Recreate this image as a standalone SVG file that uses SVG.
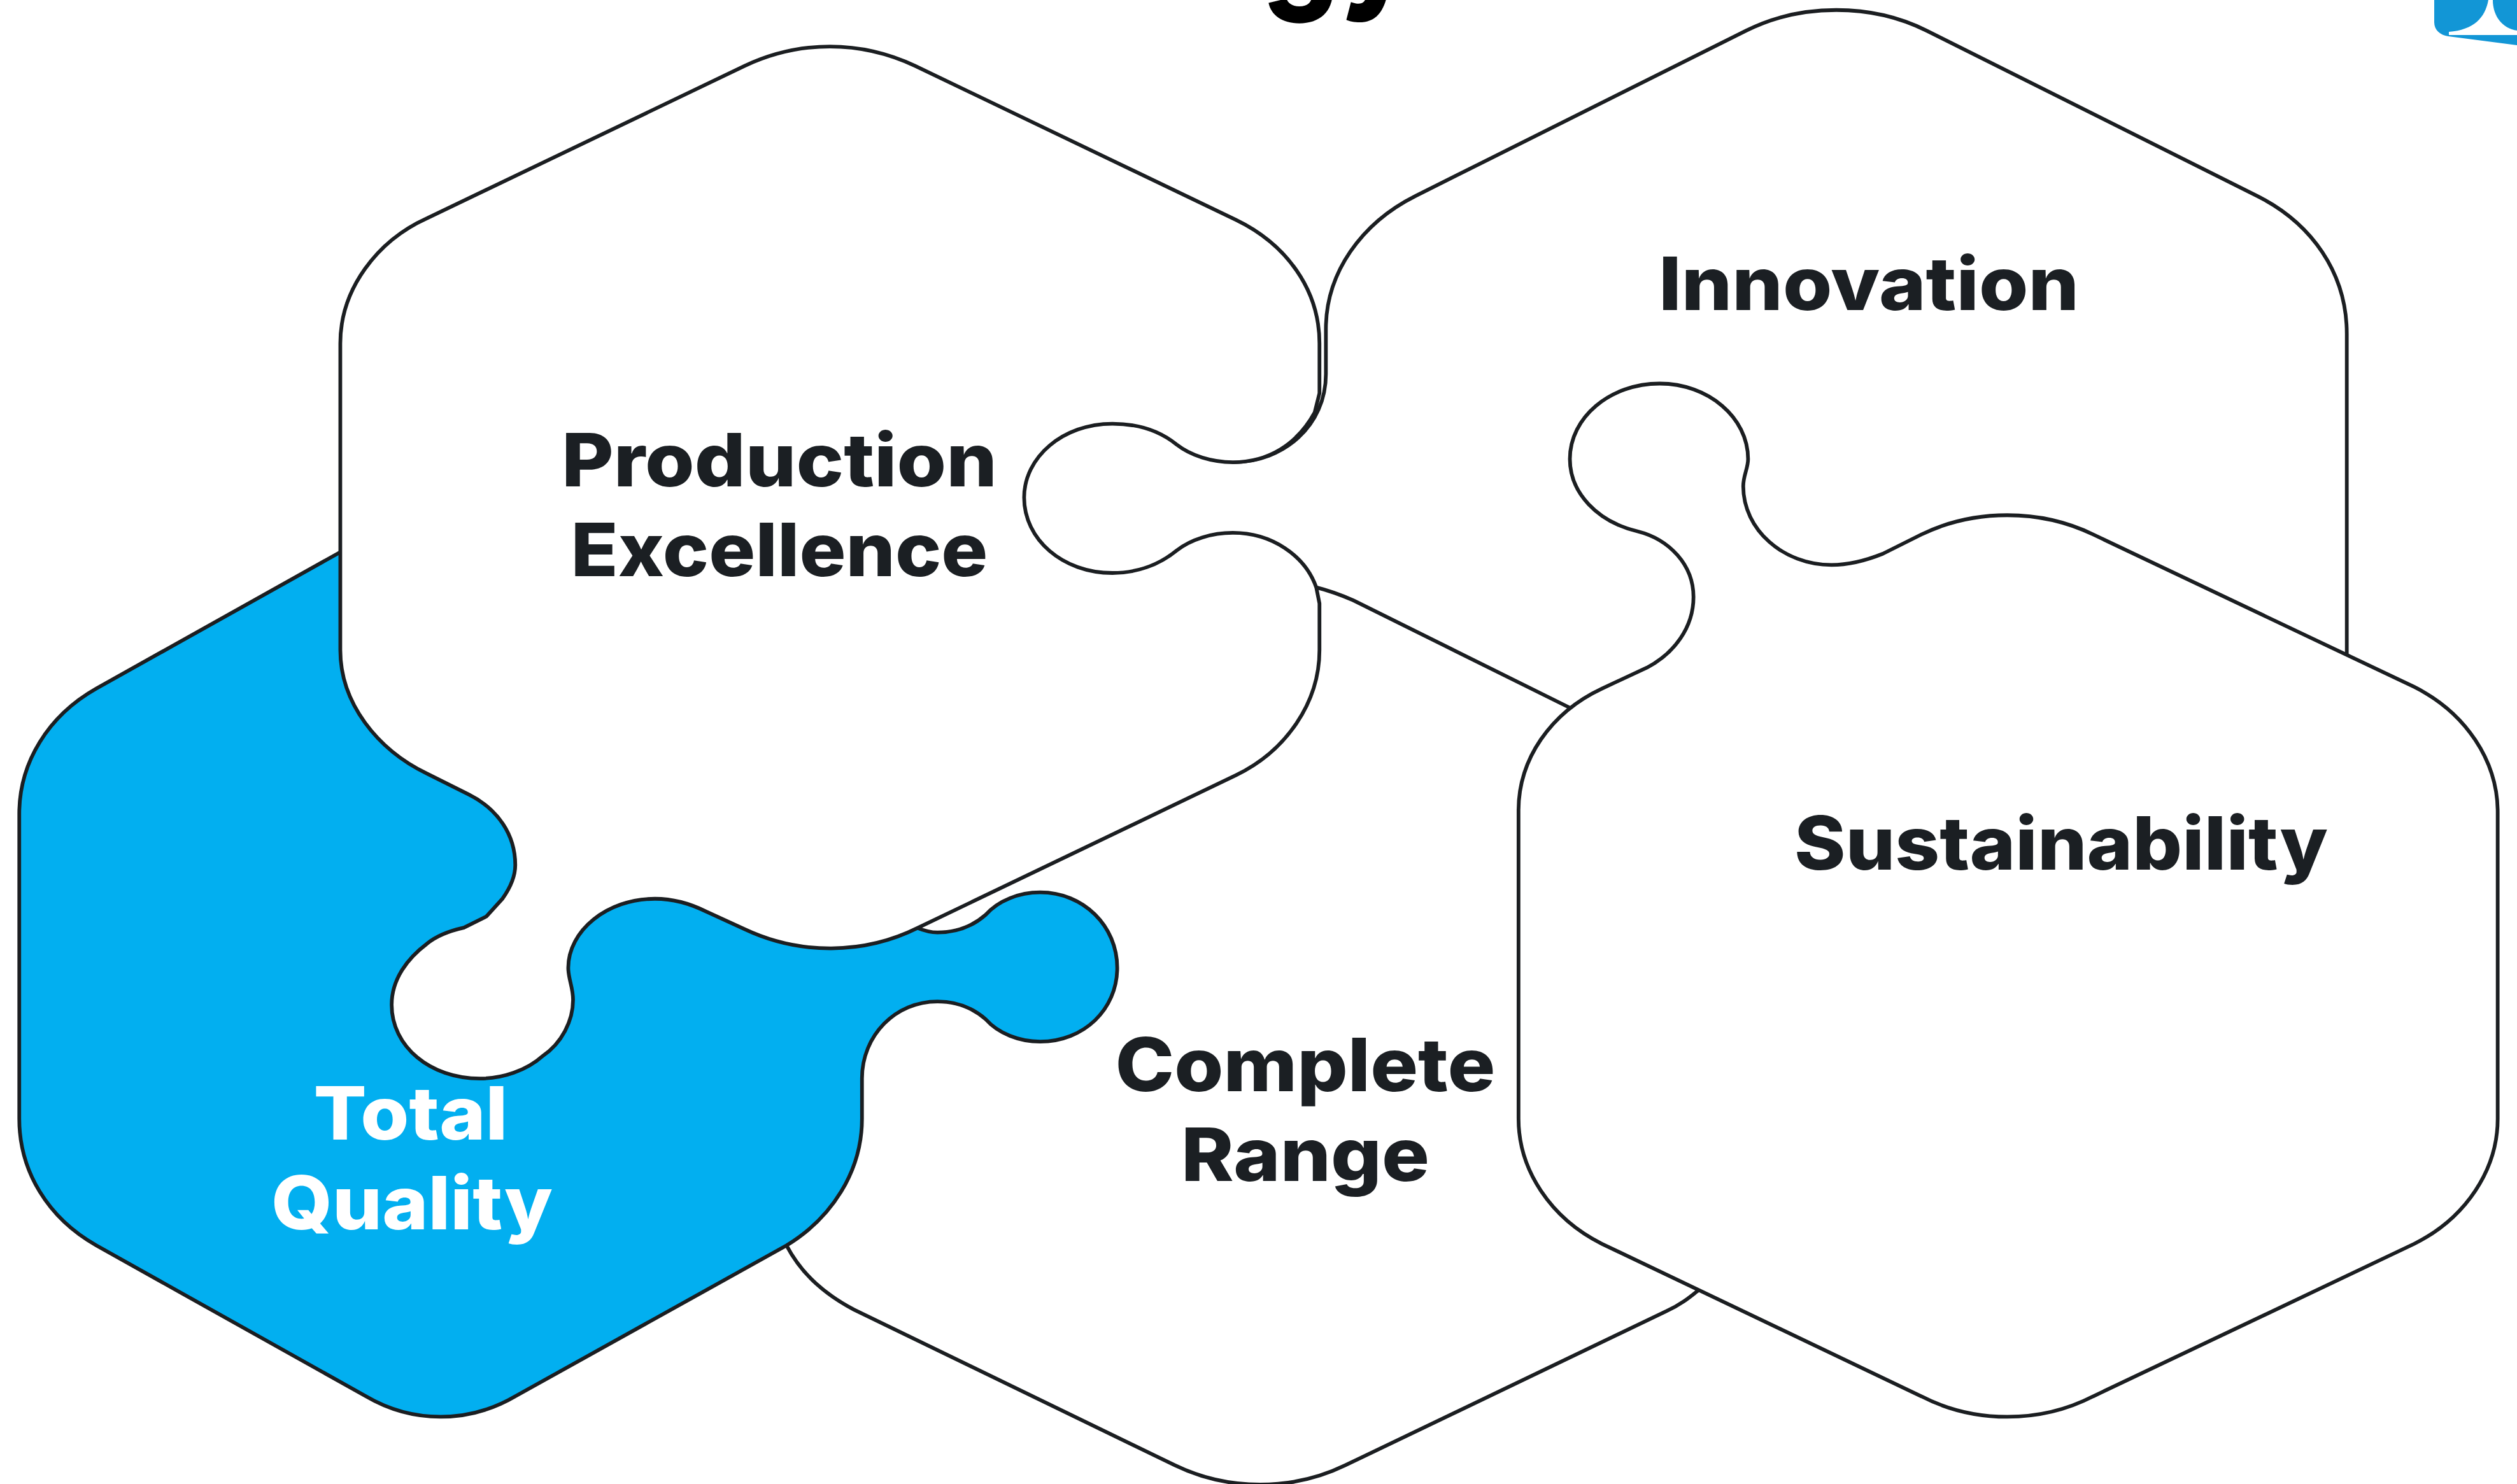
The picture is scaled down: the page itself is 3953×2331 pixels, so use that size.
<svg xmlns="http://www.w3.org/2000/svg" width="3953" height="2331" viewBox="0 0 3953 2331">
<style>
.shape{fill:#fff;stroke:#1b1e21;stroke-width:2.3;stroke-linejoin:round}
.blue{fill:#02aff0}
.lbl{font-family:"Inter","Liberation Sans",sans-serif;font-weight:800;font-size:116px;fill:#1b1f23;text-anchor:middle}
.wht{fill:#fff}
.ttl{font-family:"Inter","Liberation Sans",sans-serif;font-weight:800;font-size:225px;fill:#000}
.logo{fill:#1296d6}
</style>
<rect width="3953" height="2331" fill="#fff"/>
<text class="ttl" x="1982" y="-12" textLength="240" lengthAdjust="spacingAndGlyphs">gy</text>
<g id="logo">
<path class="logo" d="M3823,0 L3908,0 C3903,28 3885,47 3846,50 L3846,55 L3953,55 L3953,71 L3845,57 C3832,55 3823,47 3823,35 Z"/>
<path class="logo" d="M3915,0 C3915,25 3930,45 3953,48 L3953,0 Z"/>
</g>
<g id="node-innovation" transform="scale(2.521)">
<path class="shape" d="M768,288 C800,288 826,265 826,233 L826,205 C826,170 848,139 882,122 L1088,19 C1122,2 1166,2 1200,19 L1406,122 C1440,139 1462,170 1462,208 L1462,410"/>
</g>
<g id="node-complete-range" transform="scale(2.521)">
<path class="shape" d="M820,366 C828,368 836,371 843,374 L978,441 L1100,500 L1100,760 L1058,804 C1053,808 1047,813 1038,817 L838,913 C805,929 765,929 732,913 L532,816 C515,807 500,795 490,776 L500,500 L700,400 Z"/>
</g>
<g id="node-total-quality" transform="scale(2.521)">
<path class="shape blue" d="M212,344 L60,429 C30,446 12,475 12,507 L12,697 C12,730 30,759 60,776 L228,870 C257,887 292,887 321,870 L490,776 C518,759 537,730 537,697 L537,672 C537,645 558,624 584,624 C596,624 606,628 614,635 C622,644 635,649 648,649 C675,649 696,629 696,603 C696,577 675,556 648,556 C635,556 622,561 614,570 C606,577 596,581 584,581 C580,581 576,580 571,578 L400,450 Z"/>
</g>
<g id="node-production-excellence" transform="scale(2.521)">
<path class="shape" d="M212,214 C212,180 235,150 266,136 L464,41 C498,25 536,25 570,41 L770,137 C801,152 822,180 822,214 L822,245 L819,257 C808,277 790,288 768,288 C755,288 742,284 733,277 C722,268 708,264 693,264 C662,264 638,285 638,310 C638,336 662,357 693,357 C708,357 722,352 733,343 C742,336 755,332 768,332 C792,332 813,346 820,366 L822,376 L822,405 C822,438 801,468 770,483 L572,578 C538,595 498,595 464,579 L440,568 C428,562 418,560 408,560 C378,560 354,580 354,603 C354,610 357,615 357,623 C357,636 350,650 338,658 C328,667 313,672 299,672 C268,672 244,652 244,626 C244,610 254,597 266,588 C272,583 280,580 289,578 L303,571 L313,560 C318,553 321,546 321,539 C321,520 310,504 292,495 L266,482 C235,467 212,438 212,405 Z"/>
</g>
<g id="node-sustainability" transform="scale(2.521)">
<path class="shape" d="M946,505 C946,473 966,444 998,429 L1026,416 C1043,407 1055,391 1055,372 C1055,352 1040,336 1020,331 C995,325 978,307 978,286 C978,260 1003,239 1034,239 C1064,239 1089,260 1089,286 C1089,292 1086,296 1086,303 C1086,330 1111,352 1141,352 C1152,352 1163,349 1173,345 L1197,333 C1230,317 1271,317 1304,333 L1504,428 C1536,444 1556,474 1556,506 L1556,697 C1556,729 1536,759 1504,775 L1304,870 C1271,887 1230,887 1197,870 L998,775 C966,759 946,729 946,697 Z"/>
</g>
<g id="labels">
<text class="lbl" x="1224" y="764" textLength="684" lengthAdjust="spacingAndGlyphs">Production</text>
<text class="lbl" x="1224" y="905" textLength="655" lengthAdjust="spacingAndGlyphs">Excellence</text>
<text class="lbl" x="2935" y="487" textLength="660" lengthAdjust="spacingAndGlyphs">Innovation</text>
<text class="lbl" x="3237" y="1366" textLength="838" lengthAdjust="spacingAndGlyphs">Sustainability</text>
<text class="lbl" x="2050" y="1714" textLength="597" lengthAdjust="spacingAndGlyphs">Complete</text>
<text class="lbl" x="2050" y="1855" textLength="390" lengthAdjust="spacingAndGlyphs">Range</text>
<text class="lbl wht" x="645" y="1790" textLength="305" lengthAdjust="spacingAndGlyphs">Total</text>
<text class="lbl wht" x="647" y="1931" textLength="442" lengthAdjust="spacingAndGlyphs">Quality</text>
</g>
</svg>
